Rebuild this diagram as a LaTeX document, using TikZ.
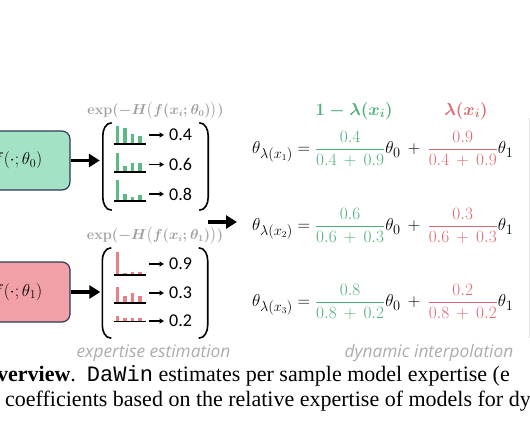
\documentclass[tikz,border=0pt]{standalone}
\usepackage{amsmath}
\usepackage[no-math]{fontspec}
\setmainfont{Liberation Serif}
\setmonofont{Liberation Mono}
\newfontfamily\calib{Carlito}
\newfontfamily\osans{Open Sans}
\usetikzlibrary{arrows.meta,positioning}

\definecolor{boxgreen}{RGB}{163,226,196}
\definecolor{boxred}{RGB}{240,160,166}
\definecolor{boxline}{RGB}{46,58,89}
\definecolor{bargreen}{RGB}{92,186,132}
\definecolor{barred}{RGB}{232,128,136}
\definecolor{txtgreen}{RGB}{76,176,120}
\definecolor{txtred}{RGB}{222,104,114}
\definecolor{notegray}{RGB}{172,172,172}

\begin{document}
\begin{tikzpicture}[x=1pt,y=-1pt,
  model/.style={draw=boxline,line width=1.2pt,rounded corners=8pt,
    minimum width=104pt,minimum height=59pt,font=\fontsize{17}{20}\selectfont},
  vec/.style={minimum width=105pt,minimum height=87pt,inner sep=0pt},
  paren/.style={line width=1.6pt},
  icon/.style={minimum width=32pt,minimum height=15pt,inner sep=0pt},
  val/.style={font=\calib\fontsize{18}{20}\selectfont,inner sep=1pt},
  fat/.style={line width=3.5pt,-{Triangle[length=11pt,width=13pt]}},
  thin/.style={line width=1.2pt,-{Triangle[length=4.5pt,width=5pt]}},
  hdr/.style={text=gray!75,font=\fontsize{13.5}{16}\selectfont\boldmath},
  eq/.style={anchor=base west,inner sep=0pt,font=\fontsize{19}{23}\selectfont},
  note/.style={text=notegray,font=\osans\itshape\fontsize{17.3}{20}\selectfont},
  captxt/.style={anchor=base west,inner sep=0pt,font=\fontsize{22}{25}\selectfont}]
  \useasboundingbox (0,0) rectangle (530,442);

  % models
  \node[model,fill=boxgreen] (mA) at (18,160.5) {$f(\cdot;\theta_0)$};
  \node[model,fill=boxred,minimum height=60pt] (mB) at (18,292) {$f(\cdot;\theta_1)$};

  % expertise vectors
  \node[vec] (vecA) at (155.5,166.5) {};
  \node[vec,minimum height=90pt] (vecB) at (155,293) {};
  \foreach \v in {vecA,vecB} {
    \draw[paren] ([xshift=9pt]\v.north west) to[out=180,in=90] ([yshift=-13pt]\v.north west)
      -- ([yshift=13pt]\v.south west) to[out=-90,in=180] ([xshift=9pt]\v.south west);
    \draw[paren] ([xshift=-9pt]\v.north east) to[out=0,in=90] ([yshift=-13pt]\v.north east)
      -- ([yshift=13pt]\v.south east) to[out=-90,in=0] ([xshift=-9pt]\v.south east);
  }
  \node[hdr,above=0pt of vecA] (hA) {$\mathbf{exp}(-H\big(f(x_i;\theta_0)\big))$};
  \node[hdr,above=0pt of vecB] (hB) {$\mathbf{exp}(-H\big(f(x_i;\theta_1)\big))$};

  \draw[fat,shorten >=3pt] (mA.east) -- (mA.east -| vecA.west);
  \draw[fat,shorten >=2pt] (mB.east) -- (mB.east -| vecB.west);

  % histograms and scores
  \foreach \n/\c/\b/\y/\s/\ha/\hb/\hc/\hd in {
      a/bargreen/144/135/0.4/18/16/10/8.5,
      b/bargreen/172/164.5/0.6/19/6/9.5/9.5,
      c/bargreen/201/194/0.8/21/7/4.5/6,
      d/barred/275/264/0.9/23/2.5/3/3,
      e/barred/303/293/0.3/16/7/10/7,
      f/barred/321.5/321/0.2/6/3.5/3.5/3.5} {
    \node[icon,anchor=south] (g\n) at (130,\b) {};
    \foreach \h [count=\k] in {\ha,\hb,\hc,\hd}
      \fill[\c] ([xshift={2pt+(\k-1)*7.4pt}]g\n.south west) rectangle ++(3.6,-\h);
    \draw[line width=1.6pt] (g\n.south west) -- (g\n.south east);
    \node[val,anchor=west] (v\n) at (168,\y) {\s};
    \draw[thin,shorten <=3pt,shorten >=4pt] (g\n.east |- v\n) -- (v\n.west);
  }

  \node[note] (estim) at (153.5,353) {expertise estimation};

  % interpolation
  \node[eq] (eqA) at (252,153.7) {$\medmuskip=7.5mu\displaystyle\theta_{\lambda(x_1)}=
    {\color{txtgreen}\frac{0.4}{0.4+0.9}}\theta_0+{\color{txtred}\frac{0.9}{0.4+0.9}}\theta_1$};
  \node[eq] (eqB) at (252,230.7) {$\medmuskip=7.5mu\displaystyle\theta_{\lambda(x_2)}=
    {\color{txtgreen}\frac{0.6}{0.6+0.3}}\theta_0+{\color{txtred}\frac{0.3}{0.6+0.3}}\theta_1$};
  \node[eq] (eqC) at (252,306.7) {$\medmuskip=7.5mu\displaystyle\theta_{\lambda(x_3)}=
    {\color{txtgreen}\frac{0.8}{0.8+0.2}}\theta_0+{\color{txtred}\frac{0.2}{0.8+0.2}}\theta_1$};
  \node[text=txtgreen,font=\fontsize{18}{22}\selectfont] (lamA) at (354,111) {$\boldsymbol{1-\lambda(x_i)}$};
  \node[text=txtred,font=\fontsize{18}{22}\selectfont] (lamB) at (466,111) {$\boldsymbol{\lambda(x_i)}$};

  \coordinate (split) at (208,222);
  \draw[fat,shorten >=15pt] (split) -- (split -| eqB.west);

  \node[note] (interp) at (429,353) {dynamic interpolation};

  \draw[gray!20,line width=0.8pt] (529,118) -- (529,338);

  % caption
  \node[captxt] (capA) at (-3,381) {\textbf{verview}.\enspace\texttt{DaWin} estimates per sample model expertise (e};
  \node[captxt] (capB) at (5,406) {coefficients based on the relative expertise of models for dy};
\end{tikzpicture}
\end{document}
